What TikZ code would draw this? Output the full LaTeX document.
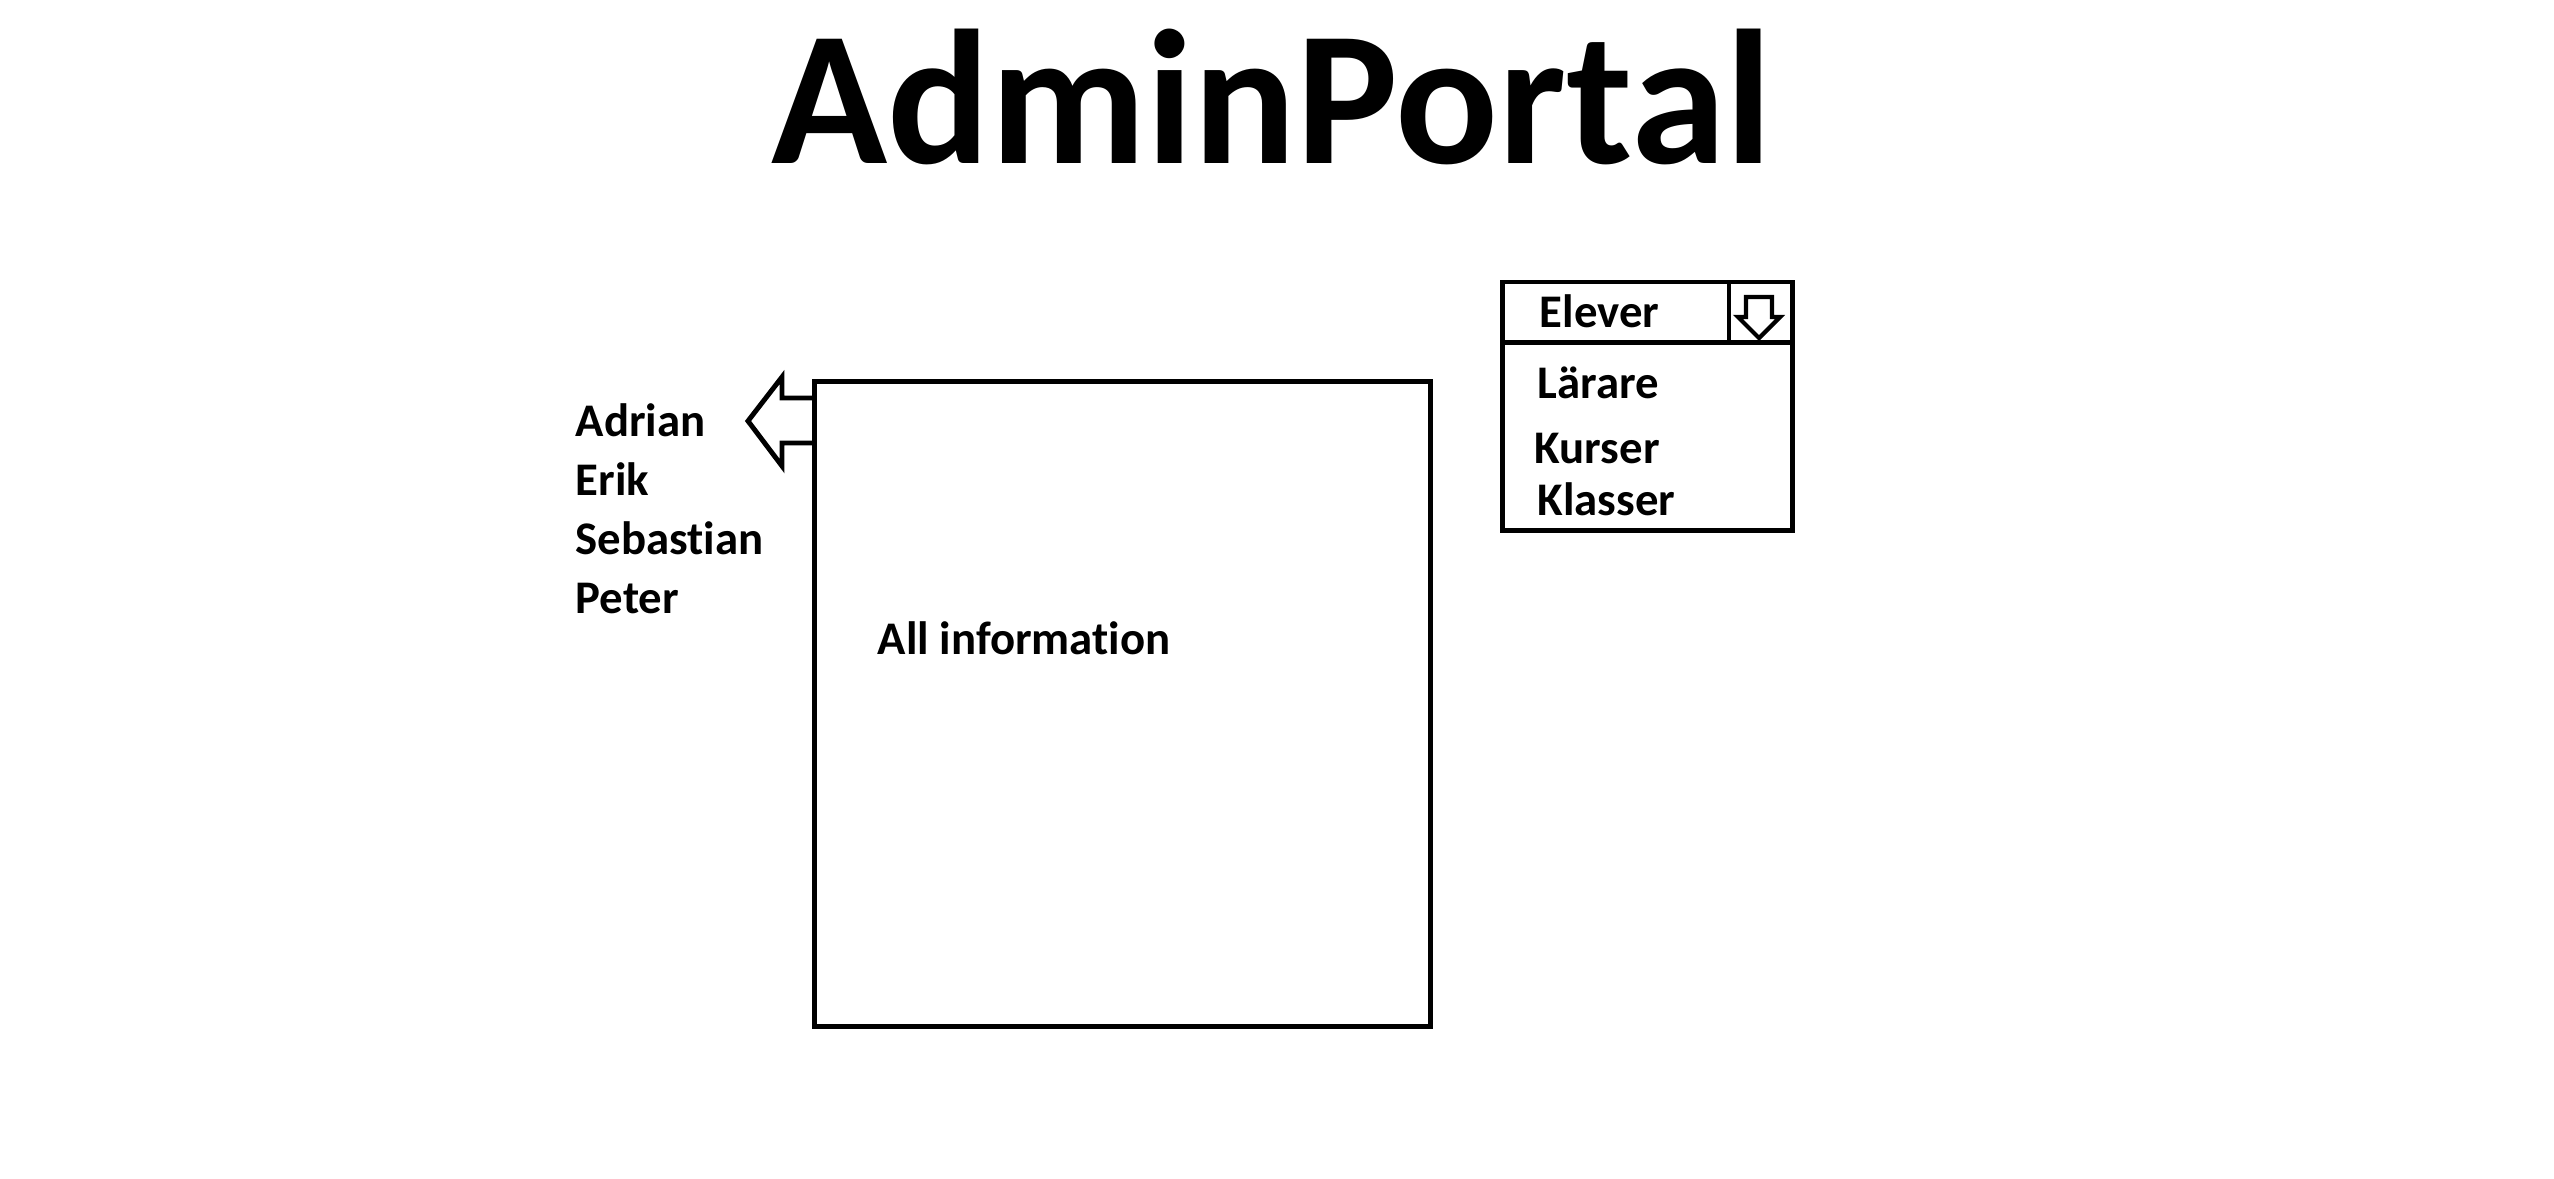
\documentclass[tikz,border=0pt]{standalone}
\usepackage{fontspec}
\setmainfont{Carlito}[Ligatures=NoCommon]
\tikzset{
  box/.style={draw, line width=1.4pt, inner sep=0pt, outer sep=0pt},
  txt/.style={font=\fontsize{13.3}{16}\selectfont\bfseries, inner sep=0pt, anchor=base west},
}
\begin{document}
\begin{tikzpicture}[x=0.01cm, y=-0.01cm]
    \useasboundingbox (0,0) rectangle (2554,1178);

    \node[inner sep=0pt, anchor=base, font=\fontsize{54.5}{60}\selectfont\bfseries] (title) at (1272,163) {AdminPortal};

    \node[box, minimum width=6.15cm, minimum height=6.44cm] (infobox) at (1122.5,704) {};
    \node[txt] (info) at (877,654) {All information};

    \draw[line width=1.4pt] (815,398) -- (782,398) -- (782,377) -- (748,421) -- (782,466) -- (782,443) -- (815,443);

    \node[txt] (adrian) at (575,436) {Adrian};
    \node[txt] (erik) at (575,495) {Erik};
    \node[txt] (sebastian) at (575,554) {Sebastian};
    \node[txt] (peter) at (575,613) {Peter};

    \node[box, minimum width=2.89cm, minimum height=0.61cm] (ddhead) at (1647.5,312.5) {};
    \node[box, minimum width=2.89cm, minimum height=1.87cm] (ddlist) at (1647.5,436.5) {};
    \draw[line width=1.4pt] (1729,282) -- (1729,343);
    \draw[line width=1.2pt] (1746,297) -- (1772,297) -- (1772,317) -- (1780,317) -- (1759,338) -- (1738,317) -- (1746,317) -- cycle;

    \node[txt] (elever) at (1539,327) {Elever};
    \node[txt] (larare) at (1537,398) {Lärare};
    \node[txt] (kurser) at (1534,463) {Kurser};
    \node[txt] (klasser) at (1537,515) {Klasser};

\end{tikzpicture}
\end{document}
